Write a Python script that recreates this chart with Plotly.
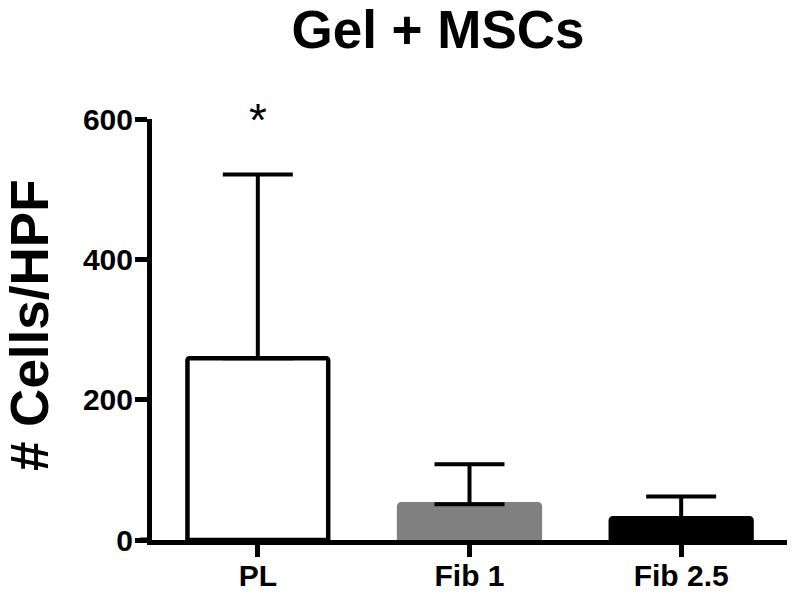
import plotly.graph_objects as go

# data
groups = ["PL", "Fib 1", "Fib 2.5"]
mean_cells = [259, 51, 31]
sd_cells = [262, 57, 31]
bar_colors = ["white", "#808080", "black"]
bar_edges = ["black", "#808080", "black"]
y_ticks = [0, 200, 400, 600]
signif = ["*", "", ""]

FONT = "Liberation Sans, Arial, Helvetica, sans-serif"

W, H = 800, 599

fig = go.Figure()

fig.add_trace(
    go.Bar(
        x=groups,
        y=mean_cells,
        width=0.665,
        marker=dict(color=bar_colors, line=dict(color=bar_edges, width=4.5), cornerradius=2),
        error_y=dict(
            type="data",
            array=sd_cells,
            arrayminus=[0] * len(sd_cells),
            symmetric=False,
            color="black",
            thickness=4,
            width=35,
        ),
        showlegend=False,
    )
)

# significance marks above the bars
for g, s in zip(groups, signif):
    if s:
        fig.add_annotation(
            x=g, y=599, text=s, showarrow=False,
            font=dict(family=FONT, size=46, color="black"),
            yanchor="middle",
        )

# y axis title placed by hand
fig.add_annotation(
    xref="paper", yref="paper", x=-0.194, y=0.51,
    xanchor="center", yanchor="middle",
    text="# Cells/HPF", textangle=-90, showarrow=False,
    font=dict(family=FONT, size=53, color="black", weight="bold"),
)

# little overshoot of the x axis line to the left of the y axis
fig.add_shape(
    type="line", xref="paper", yref="y", x0=-0.019, x1=0, y0=0, y1=0,
    line=dict(color="black", width=5),
)

fig.update_xaxes(
    range=[-0.5, 2.5], automargin=False,
    showline=True, linecolor="black", linewidth=5,
    ticks="outside", ticklen=12, tickwidth=5, tickcolor="black",
    ticklabelstandoff=-7,
    tickfont=dict(family=FONT, size=30, color="black", weight="bold"),
    showgrid=False, zeroline=False,
)
fig.update_yaxes(
    range=[0, 600], automargin=False,
    tickvals=y_ticks,
    showline=True, linecolor="black", linewidth=5,
    ticks="outside", ticklen=12, tickwidth=5, tickcolor="black",
    ticklabelstandoff=-4,
    tickfont=dict(family=FONT, size=30, color="black", weight="bold"),
    showgrid=False, zeroline=False,
)

fig.update_layout(
    title=dict(
        text="Gel + MSCs", x=438 / W, xanchor="center", xref="container",
        y=1 - 29 / H, yanchor="middle", yref="container",
        font=dict(family=FONT, size=53, color="black", weight="bold"),
    ),
    width=W, height=H,
    margin=dict(l=152, r=13, t=119, b=59),
    plot_bgcolor="white", paper_bgcolor="white",
)

# drop the default 8px page margin so the figure sits at the window corner
fig.write_html(
    "out.html",
    config={"displayModeBar": False},
    post_script="document.body.style.margin='0';",
)
